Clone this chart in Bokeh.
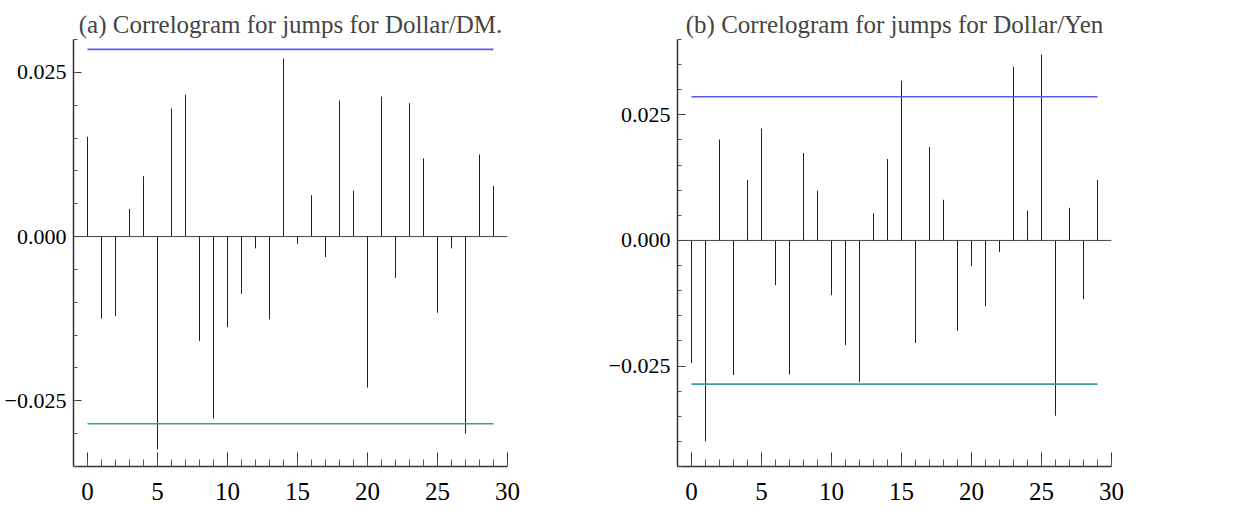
from bokeh.plotting import figure
from bokeh.layouts import row
from bokeh.models import Range1d, FixedTicker, CustomJSTickFormatter, Span
from bokeh.embed import file_html
from bokeh.resources import INLINE

lags = list(range(30))
acf_dm = [0.0152, -0.0125, -0.0121, 0.0042, 0.0092, -0.0324, 0.0195, 0.0216, -0.0159, -0.0277,
          -0.0138, -0.0087, -0.0018, -0.0126, 0.0271, -0.0011, 0.0063, -0.0031, 0.0207, 0.0070,
          -0.0230, 0.0213, -0.0063, 0.0203, 0.0119, -0.0116, -0.0018, -0.0300, 0.0125, 0.0077]
acf_yen = [-0.0244, -0.0400, 0.0201, -0.0268, 0.0120, 0.0223, -0.0089, -0.0267, 0.0174, 0.0099,
           -0.0109, -0.0208, -0.0282, 0.0054, 0.0162, 0.0318, -0.0204, 0.0186, 0.0081, -0.0180,
           -0.0051, -0.0131, -0.0023, 0.0346, 0.0059, 0.0370, -0.0349, 0.0065, -0.0117, 0.0120]
conf_dm = 0.0285
conf_yen = 0.0286
titles = ["(a) Correlogram for jumps for Dollar/DM.", "(b) Correlogram for jumps for Dollar/Yen"]
yticks_major = [-0.025, 0.0, 0.025]

FONT = "Liberation Serif"


def make(title, vals, conf, ylo, yhi, left_border, right_border):
    p = figure(title=title, output_backend="svg", toolbar_location=None,
               frame_width=434, frame_height=427,
               min_border_left=left_border, min_border_right=right_border,
               min_border_top=39, min_border_bottom=40,
               x_range=Range1d(-1, 30), y_range=Range1d(ylo, yhi))
    p.title.text_font = FONT
    p.title.text_font_size = "25px"
    p.title.text_font_style = "normal"
    p.title.align = "center"
    p.title.standoff = 4
    p.title.offset = 0
    p.outline_line_color = None
    p.xgrid.visible = False
    p.ygrid.visible = False

    p.add_layout(Span(location=0, dimension="width", line_color="#444444", line_width=1))
    p.segment(x0=lags, y0=[0] * len(lags), x1=lags, y1=vals, line_color="#222222", line_width=1)
    p.line(x=[lags[0], lags[-1]], y=[conf, conf], line_color="#5858f0", line_width=1.6)
    p.line(x=[lags[0], lags[-1]], y=[-conf, -conf], line_color="#3a9c9c", line_width=1.6)

    minor = [round(v * 0.005, 3) for v in range(int(round(ylo / 0.005)), int(round(yhi / 0.005)) + 1)]
    p.yaxis.ticker = FixedTicker(ticks=yticks_major, minor_ticks=minor)
    p.yaxis.formatter = CustomJSTickFormatter(code="return tick.toFixed(3).replace('-', '\u2212');")
    p.xaxis.ticker = FixedTicker(ticks=list(range(0, 31, 5)), minor_ticks=list(range(0, 31)))

    for ax in (p.xaxis, p.yaxis):
        ax.axis_line_color = "#333333"
        ax.axis_line_width = 1.5
        ax.major_tick_line_color = "#333333"
        ax.minor_tick_line_color = "#555555"
        ax.major_tick_out = 0
        ax.minor_tick_out = 0
        ax.major_label_text_font = FONT
        ax.major_label_text_color = "black"
    p.xaxis.major_tick_in = 14
    p.xaxis.minor_tick_in = 7
    p.yaxis.major_tick_in = 8
    p.yaxis.minor_tick_in = 4
    p.xaxis.major_label_text_font_size = "25px"
    p.yaxis.major_label_text_font_size = "22px"
    p.xaxis.major_label_standoff = 16
    p.yaxis.major_label_standoff = 7
    return p


p1 = make(titles[0], acf_dm, conf_dm, -0.035, 0.030, 73, 40)
p2 = make(titles[1], acf_yen, conf_yen, -0.045, 0.040, 130, 20)
layout = row(p1, p2)

open("out.html", "w").write(file_html(layout, INLINE))
